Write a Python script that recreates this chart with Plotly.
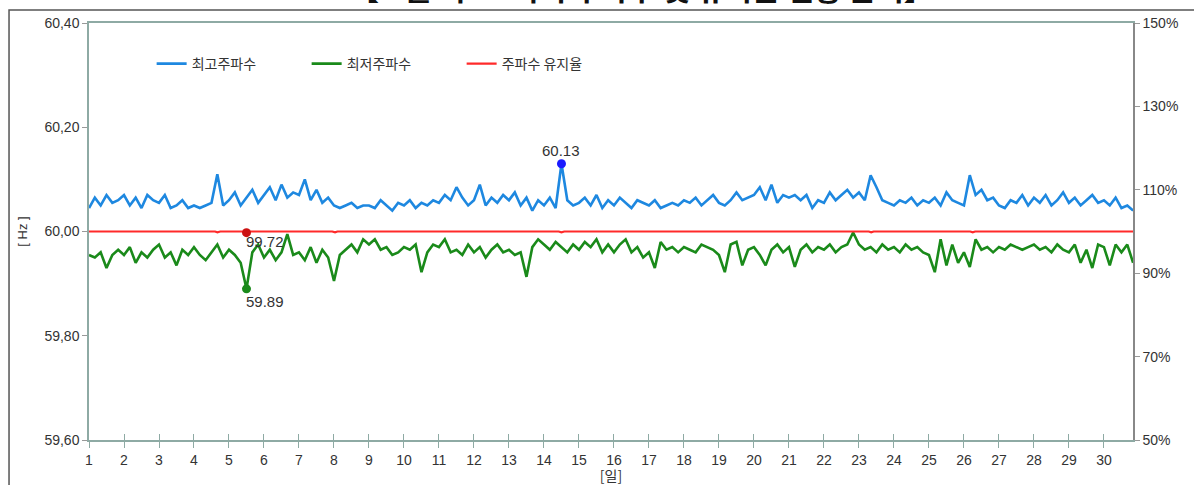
import numpy as np
import plotly.graph_objects as go

# ---- data (4-hour samples, 6 per day, days 1..30) ----
max_freq = [
    60.045, 60.065, 60.05, 60.07, 60.055, 60.06,
    60.07, 60.05, 60.065, 60.045, 60.07, 60.06,
    60.055, 60.07, 60.045, 60.05, 60.06, 60.045,
    60.05, 60.045, 60.05, 60.055, 60.11, 60.05,
    60.06, 60.075, 60.05, 60.065, 60.08, 60.055,
    60.07, 60.085, 60.06, 60.09, 60.065, 60.075,
    60.07, 60.10, 60.06, 60.08, 60.055, 60.065,
    60.05, 60.045, 60.05, 60.055, 60.045, 60.05,
    60.05, 60.045, 60.06, 60.05, 60.04, 60.055,
    60.05, 60.06, 60.045, 60.055, 60.05, 60.06,
    60.055, 60.07, 60.06, 60.085, 60.065, 60.05,
    60.06, 60.09, 60.05, 60.065, 60.055, 60.07,
    60.06, 60.075, 60.05, 60.065, 60.04, 60.06,
    60.05, 60.065, 60.045, 60.13, 60.06, 60.05,
    60.055, 60.065, 60.05, 60.07, 60.045, 60.06,
    60.05, 60.065, 60.055, 60.045, 60.06, 60.055,
    60.05, 60.06, 60.045, 60.05, 60.055, 60.05,
    60.06, 60.055, 60.065, 60.05, 60.06, 60.07,
    60.055, 60.05, 60.06, 60.075, 60.06, 60.065,
    60.07, 60.085, 60.06, 60.09, 60.055, 60.07,
    60.065, 60.07, 60.06, 60.07, 60.045, 60.06,
    60.055, 60.075, 60.06, 60.07, 60.08, 60.065,
    60.075, 60.06, 60.108, 60.085, 60.06, 60.055,
    60.05, 60.06, 60.055, 60.065, 60.05, 60.06,
    60.055, 60.065, 60.05, 60.075, 60.06, 60.055,
    60.05, 60.108, 60.07, 60.08, 60.06, 60.065,
    60.05, 60.045, 60.06, 60.055, 60.07, 60.05,
    60.065, 60.055, 60.07, 60.05, 60.06, 60.075,
    60.055, 60.065, 60.05, 60.06, 60.07, 60.055,
    60.06, 60.05, 60.065, 60.045, 60.05, 60.04,
]
min_freq = [
    59.955, 59.95, 59.96, 59.93, 59.955, 59.965,
    59.955, 59.97, 59.94, 59.96, 59.95, 59.965,
    59.975, 59.95, 59.96, 59.935, 59.965, 59.955,
    59.97, 59.955, 59.945, 59.96, 59.975, 59.95,
    59.965, 59.955, 59.94, 59.89, 59.96, 59.975,
    59.95, 59.965, 59.945, 59.96, 59.995, 59.955,
    59.96, 59.945, 59.97, 59.94, 59.965, 59.95,
    59.905, 59.955, 59.965, 59.975, 59.96, 59.985,
    59.975, 59.985, 59.965, 59.97, 59.955, 59.96,
    59.97, 59.965, 59.975, 59.922, 59.96, 59.975,
    59.97, 59.985, 59.96, 59.965, 59.955, 59.975,
    59.96, 59.97, 59.95, 59.965, 59.975, 59.96,
    59.965, 59.955, 59.96, 59.913, 59.97, 59.985,
    59.975, 59.965, 59.98, 59.97, 59.96, 59.975,
    59.965, 59.98, 59.97, 59.985, 59.96, 59.975,
    59.96, 59.975, 59.985, 59.96, 59.97, 59.95,
    59.96, 59.93, 59.98, 59.965, 59.97, 59.96,
    59.97, 59.965, 59.96, 59.975, 59.97, 59.965,
    59.955, 59.922, 59.975, 59.98, 59.935, 59.965,
    59.97, 59.955, 59.935, 59.965, 59.975, 59.96,
    59.97, 59.932, 59.965, 59.975, 59.96, 59.97,
    59.965, 59.975, 59.96, 59.97, 59.975, 59.998,
    59.975, 59.965, 59.97, 59.96, 59.975, 59.965,
    59.97, 59.96, 59.975, 59.965, 59.97, 59.96,
    59.955, 59.922, 59.985, 59.935, 59.975, 59.94,
    59.96, 59.932, 59.985, 59.965, 59.97, 59.96,
    59.97, 59.965, 59.975, 59.97, 59.965, 59.97,
    59.975, 59.965, 59.97, 59.96, 59.975, 59.965,
    59.96, 59.975, 59.94, 59.965, 59.93, 59.975,
    59.97, 59.935, 59.975, 59.96, 59.975, 59.94,
]
rate_days = [1.0, 4.6, 4.67, 4.75, 5.42, 5.5, 5.58, 7.95, 8.03, 8.1,
             14.42, 14.5, 14.58, 23.28, 23.35, 23.42, 26.18, 26.25, 26.32, 30.83]
rate_vals = [100, 100, 99.8, 100, 100, 99.72, 100, 100, 99.8, 100,
             100, 99.8, 100, 100, 99.8, 100, 100, 99.8, 100, 100]
day_ticks = list(range(1, 31))
hz_ticks = [59.6, 59.8, 60.0, 60.2, 60.4]
pct_ticks = [50, 70, 90, 110, 130, 150]

days = [1 + i / 6 for i in range(len(max_freq))]

BLUE = "#1e88e0"
GREEN = "#1a8a1a"
RED = "#ff2a2a"
AX = "#8eaaa4"
TXT = "#333333"
FONT = "Liberation Sans, Noto Sans CJK KR, sans-serif"
KFONT = "Noto Sans CJK KR, sans-serif"

fig = go.Figure()
fig.add_trace(go.Scatter(x=days, y=max_freq, mode="lines", name="최고주파수",
                         line=dict(color=BLUE, width=2.6)))
fig.add_trace(go.Scatter(x=days, y=min_freq, mode="lines", name="최저주파수",
                         line=dict(color=GREEN, width=2.6)))
fig.add_trace(go.Scatter(x=rate_days, y=rate_vals, mode="lines", name="주파수 유지율",
                         yaxis="y2", line=dict(color=RED, width=2.2)))

# highlighted extremes
imax = int(np.argmax(max_freq))
imin = int(np.argmin(min_freq))
irate = int(np.argmin(rate_vals))
fig.add_trace(go.Scatter(x=[days[imax]], y=[max_freq[imax]], mode="markers",
                         marker=dict(color="#1a1aff", size=9), showlegend=False))
fig.add_trace(go.Scatter(x=[days[imin]], y=[min_freq[imin]], mode="markers",
                         marker=dict(color=GREEN, size=9), showlegend=False))
fig.add_trace(go.Scatter(x=[rate_days[irate]], y=[rate_vals[irate]], mode="markers",
                         yaxis="y2", marker=dict(color="#cc1111", size=9), showlegend=False))
# helper trace for crossing tick marks
fig.add_trace(go.Scatter(x=[1], y=[60.0], xaxis="x2", mode="markers",
                         marker=dict(opacity=0), showlegend=False, hoverinfo="skip"))

fig.add_annotation(x=days[imax], y=max_freq[imax], text=f"{max_freq[imax]:.2f}",
                   showarrow=False, yanchor="bottom", yshift=3,
                   font=dict(size=15, color=TXT, family=FONT))
fig.add_annotation(x=days[imin], y=min_freq[imin], text=f"{min_freq[imin]:.2f}",
                   showarrow=False, xanchor="left", yanchor="top", xshift=-2, yshift=-2,
                   font=dict(size=15, color=TXT, family=FONT))
fig.add_annotation(x=rate_days[irate], y=rate_vals[irate], yref="y2",
                   text=f"{rate_vals[irate]:.2f}",
                   showarrow=False, xanchor="left", yanchor="top", xshift=-2, yshift=2,
                   font=dict(size=15, color=TXT, family=FONT))

# clipped title at top
fig.add_annotation(xref="paper", yref="paper", x=0.529, y=1.0288, yanchor="bottom",
                   text="<b>【 6월 최고·최저 주파수 및 유지율 현황 분석】</b>", showarrow=False,
                   font=dict(size=30, color="#111111", family=KFONT))

# outer frame
fig.add_shape(type="rect", xref="paper", yref="paper",
              x0=-0.0766, x1=1.2, y0=-0.2, y1=1.0312,
              line=dict(color="#555555", width=1.5), fillcolor="rgba(0,0,0,0)", layer="below")

fig.update_layout(
    width=1194, height=485,
    margin=dict(l=89, r=61, t=23, b=45),
    paper_bgcolor="white", plot_bgcolor="white",
    separators=",.",
    font=dict(family=FONT, size=13, color=TXT),
    showlegend=True,
    legend=dict(orientation="h", x=0.06, y=0.94, xanchor="left", yanchor="top",
                bgcolor="rgba(0,0,0,0)", font=dict(size=14, family=KFONT, color=TXT),
                entrywidth=110, itemwidth=30),
    xaxis=dict(range=[1, 30.83], tickmode="array", tickvals=day_ticks,
               ticks="outside", ticklen=6, tickcolor=AX, showgrid=False, zeroline=False,
               showline=True, linecolor=AX, linewidth=1.5, mirror=True,
               tickfont=dict(size=14, color=TXT), automargin=False,
               title=dict(text="[일]", font=dict(size=14, family=KFONT, color=TXT), standoff=6)),
    xaxis2=dict(range=[1, 30.83], overlaying="x", anchor="y", side="bottom",
                tickmode="array", tickvals=day_ticks, ticks="inside", ticklen=6,
                tickcolor=AX, showticklabels=False, showgrid=False, zeroline=False,
                showline=False),
    yaxis=dict(range=[59.6, 60.4], tickmode="array",
               tickvals=hz_ticks, tickformat=".2f",
               ticks="outside", ticklen=5, tickcolor="#999999", showgrid=False, zeroline=False,
               showline=True, linecolor=AX, linewidth=1.5, automargin=False,
               tickfont=dict(size=14, color=TXT),
               title=dict(text="[ Hz ]", font=dict(size=13, color=TXT), standoff=14)),
    yaxis2=dict(range=[50, 150], overlaying="y", side="right", anchor="x",
                tickmode="array", tickvals=pct_ticks,
                ticktext=[f"{v}%" for v in pct_ticks],
                ticks="outside", ticklen=5, tickcolor="#999999", showgrid=False,
                zeroline=False, showline=True, linecolor="#888888", linewidth=1.5,
                automargin=False, tickfont=dict(size=14, color=TXT)),
)

fig.write_html("out.html", config={"displayModeBar": False},
               post_script="document.body.style.margin='0px';document.body.style.overflow='hidden';")
